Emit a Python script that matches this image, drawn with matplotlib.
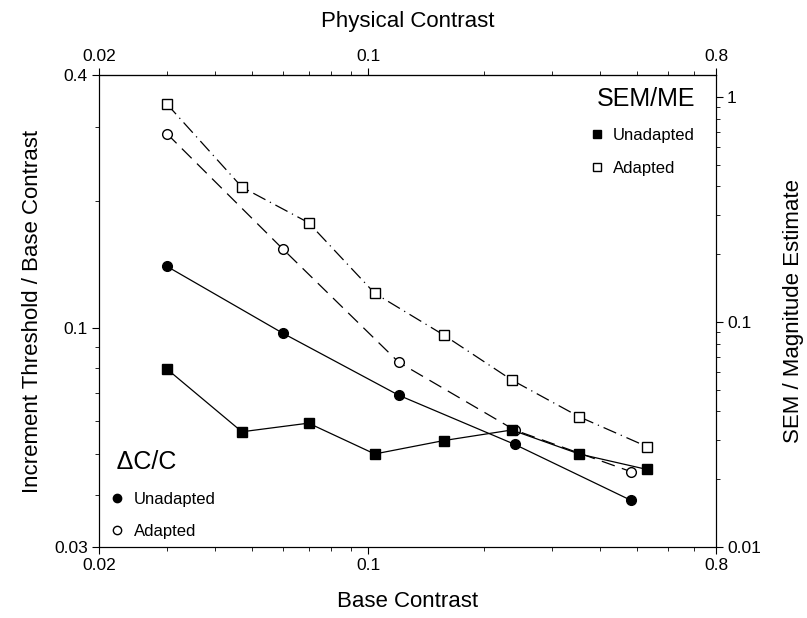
import matplotlib
matplotlib.use("Agg")
import matplotlib.pyplot as plt
from matplotlib.lines import Line2D
from matplotlib.ticker import FixedLocator, FixedFormatter, LogLocator, NullFormatter

plt.rcParams['font.family'] = ['Liberation Sans', 'DejaVu Sans']

# Delta C / C (left axis), base contrast doubling
dcc_x = [0.03, 0.06, 0.12, 0.24, 0.48]
dcc_unadapted = [0.14, 0.097, 0.069, 0.0527, 0.0388]
dcc_adapted = [0.29, 0.154, 0.0827, 0.057, 0.0454]

# SEM / magnitude estimate (right axis)
sem_x = [0.03, 0.047, 0.07, 0.104, 0.157, 0.236, 0.353, 0.53]
sem_unadapted = [0.0618, 0.0325, 0.0355, 0.0259, 0.0297, 0.0331, 0.0259, 0.0221]
sem_adapted = [0.93, 0.397, 0.276, 0.134, 0.0875, 0.0552, 0.0379, 0.0279]

x_ticks = [0.02, 0.1, 0.8]
x_labels = ["0.02", "0.1", "0.8"]
yl_ticks = [0.03, 0.1, 0.4]
yl_labels = ["0.03", "0.1", "0.4"]
yr_ticks = [0.01, 0.1, 1]
yr_labels = ["0.01", "0.1", "1"]

fig = plt.figure(figsize=(8.07, 6.18), dpi=100)
ax = fig.add_axes([0.1227, 0.1149, 0.7645, 0.7637])
ax2 = ax.twinx()

ax.set_xscale('log')
ax.set_yscale('log')
ax2.set_yscale('log')
ax.set_xlim(0.02, 0.8)
ax.set_ylim(0.03, 0.4)
ax2.set_ylim(0.01, 1.25)

lw = 0.9
ax.plot(dcc_x, dcc_unadapted, '-', color='black', lw=lw, marker='o', ms=7,
        mfc='black', mec='black', zorder=3)
ax.plot(dcc_x, dcc_adapted, color='black', lw=lw, dashes=(11, 6), marker='o', ms=7,
        mfc='white', mec='black', mew=1.0, zorder=3)
ax2.plot(sem_x, sem_unadapted, '-', color='black', lw=lw, marker='s', ms=7,
         mfc='black', mec='black', zorder=3)
ax2.plot(sem_x, sem_adapted, color='black', lw=lw, dashes=(11, 4, 1, 4), marker='s', ms=7,
         mfc='white', mec='black', mew=1.0, zorder=3)

# ticks
ax.xaxis.set_major_locator(FixedLocator(x_ticks))
ax.xaxis.set_major_formatter(FixedFormatter(x_labels))
ax.xaxis.set_minor_locator(LogLocator(base=10, subs=range(2, 10)))
ax.xaxis.set_minor_formatter(NullFormatter())
ax.yaxis.set_major_locator(FixedLocator(yl_ticks))
ax.yaxis.set_major_formatter(FixedFormatter(yl_labels))
ax.yaxis.set_minor_locator(LogLocator(base=10, subs=range(2, 10)))
ax.yaxis.set_minor_formatter(NullFormatter())
ax2.yaxis.set_major_locator(FixedLocator(yr_ticks))
ax2.yaxis.set_major_formatter(FixedFormatter(yr_labels))
ax2.yaxis.set_minor_locator(LogLocator(base=10, subs=range(2, 10)))
ax2.yaxis.set_minor_formatter(NullFormatter())

top = ax.secondary_xaxis('top')
top.xaxis.set_major_locator(FixedLocator(x_ticks))
top.xaxis.set_major_formatter(FixedFormatter(x_labels))
top.xaxis.set_minor_locator(LogLocator(base=10, subs=range(2, 10)))
top.xaxis.set_minor_formatter(NullFormatter())

for a in (ax, ax2, top):
    a.tick_params(which='major', length=5, width=0.8, labelsize=12.5, pad=3)
    a.tick_params(which='minor', length=3, width=0.6)

ax.set_xlabel("Base Contrast", fontsize=16, labelpad=13)
top.set_xlabel("Physical Contrast", fontsize=16, labelpad=16)
ax.set_ylabel("Increment Threshold / Base Contrast", fontsize=16, labelpad=8)
ax2.set_ylabel("SEM / Magnitude Estimate", fontsize=16, labelpad=16)

# legends
h_c = [Line2D([], [], ls='none', marker='o', ms=6, mfc='black', mec='black'),
       Line2D([], [], ls='none', marker='o', ms=6, mfc='white', mec='black')]
h_s = [Line2D([], [], ls='none', marker='s', ms=6, mfc='black', mec='black'),
       Line2D([], [], ls='none', marker='s', ms=6, mfc='white', mec='black')]

leg1 = ax2.legend(h_c, ["Unadapted", "Adapted"], title=" \u0394C/C", loc='lower left',
                  bbox_to_anchor=(0.0, -0.008), frameon=False, fontsize=12,
                  title_fontsize=18, alignment='left', handlelength=0.8,
                  handletextpad=0.6, labelspacing=1.05, borderaxespad=0.3)
ax2.add_artist(leg1)
leg2 = ax2.legend(h_s, ["Unadapted", "Adapted"], title="SEM/ME", loc='upper right',
                  bbox_to_anchor=(0.985, 1.0), frameon=False, fontsize=12,
                  title_fontsize=18, alignment='right', handlelength=0.8,
                  handletextpad=0.6, labelspacing=1.05, borderaxespad=0.3)

fig.savefig("out.png", dpi=100)
